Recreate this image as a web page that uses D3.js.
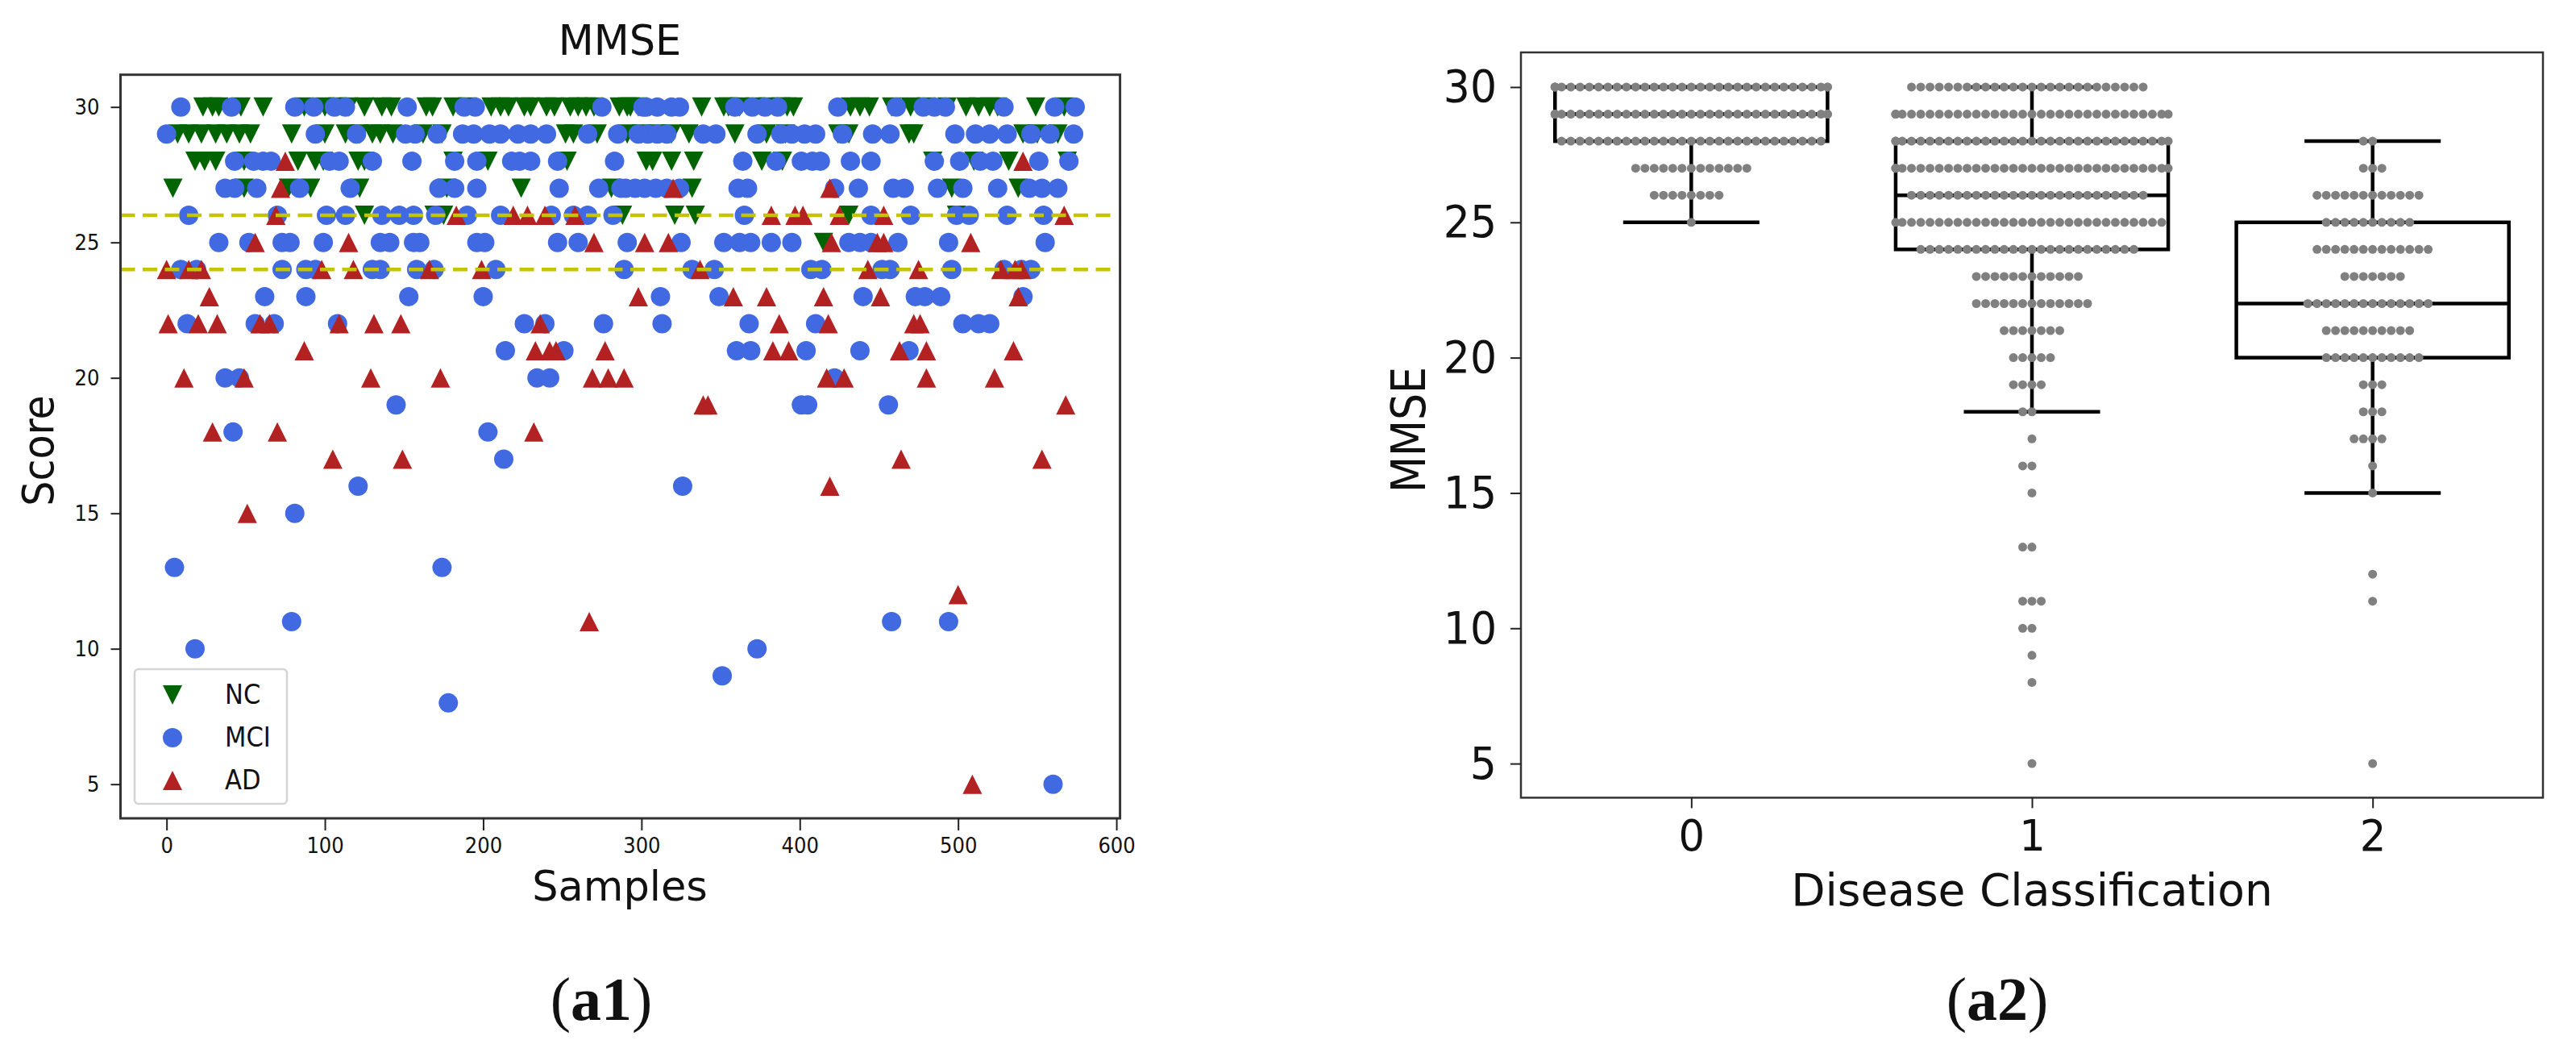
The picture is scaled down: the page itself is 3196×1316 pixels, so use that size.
<!DOCTYPE html>
<html>
<head>
<meta charset="utf-8">
<title>MMSE</title>
<script src="https://cdn.jsdelivr.net/npm/d3@7"></script>
<style>
  html, body { margin: 0; background: #fff; }
  svg { display: block; }
  text { font-family: "DejaVu Sans", sans-serif; fill: #111; }
</style>
</head>
<body>
<script>
/* Left panel: sample index per group, one list per score row. */
const rowScores = [30, 29, 28, 27, 26, 25, 24, 23, 22, 21, 20, 19, 18, 17, 16, 15, 13, 12, 11, 10, 9, 8, 5];
const ncSamples = [
  [23, 29, 33, 47, 61, 87, 100, 108, 115, 125, 136, 142, 164, 168, 181, 190, 205, 211, 216, 226, 230, 240, 245, 255, 260, 265, 270, 286, 291, 293, 298, 338, 352, 355, 362, 372, 380, 388, 392, 396, 432, 438, 444, 458, 470, 480, 493, 505, 513, 520, 525, 549, 567],
  [7, 14, 22, 31, 38, 46, 53, 79, 100, 113, 122, 130, 135, 143, 162, 174, 252, 257, 272, 291, 300, 310, 319, 330, 359, 379, 391, 424, 431, 469, 472, 541, 550, 563],
  [18, 24, 31, 49, 83, 94, 99, 121, 125, 181, 203, 253, 303, 307, 319, 333, 376, 389, 484, 510, 532, 569],
  [4, 49, 77, 91, 122, 177, 224, 281, 332, 496, 538],
  [125, 169, 175, 288, 321, 334, 431, 499],
  [415],
  [], [], [], [], [], [], [], [], [], [], [], [], [], [], [], [], []
];
const mciSamples = [
  [9, 41, 81, 93, 106, 113, 152, 188, 195, 275, 301, 303, 310, 319, 324, 359, 370, 378, 386, 424, 461, 478, 485, 492, 529, 561, 574],
  [0, 94, 120, 151, 157, 171, 187, 194, 204, 211, 222, 230, 240, 266, 285, 298, 304, 310, 316, 339, 347, 373, 388, 395, 403, 410, 427, 446, 457, 498, 511, 520, 531, 546, 558, 573],
  [43, 55, 61, 66, 103, 109, 130, 155, 182, 196, 218, 223, 230, 247, 283, 364, 385, 401, 408, 413, 432, 445, 485, 501, 514, 522, 551, 570],
  [37, 43, 57, 84, 116, 172, 182, 196, 248, 273, 287, 290, 296, 302, 309, 316, 324, 361, 367, 422, 437, 459, 466, 487, 503, 525, 545, 553, 563],
  [14, 70, 101, 113, 136, 147, 156, 170, 190, 211, 243, 257, 266, 282, 365, 445, 470, 499, 507, 531, 554],
  [33, 52, 73, 78, 99, 135, 141, 156, 160, 196, 201, 247, 260, 291, 325, 352, 362, 369, 382, 395, 431, 438, 445, 462, 494, 555],
  [9, 19, 73, 88, 94, 130, 135, 158, 169, 208, 289, 332, 346, 407, 414, 452, 457, 496, 529, 540, 546],
  [62, 88, 153, 200, 312, 349, 440, 473, 479, 489, 541],
  [13, 56, 68, 108, 226, 239, 276, 313, 368, 410, 503, 513, 520],
  [214, 251, 360, 369, 404, 438, 469],
  [37, 46, 234, 242, 422],
  [145, 401, 405, 456],
  [42, 203],
  [213],
  [121, 326],
  [81],
  [5, 174],
  [],
  [79, 458, 494],
  [18, 373],
  [351],
  [178],
  [560]
];
const adSamples = [
  [],
  [],
  [75, 541],
  [72, 320, 419],
  [69, 183, 219, 228, 239, 258, 382, 397, 402, 425, 453, 567],
  [56, 115, 270, 302, 317, 420, 449, 453, 508],
  [0, 14, 22, 98, 118, 166, 199, 337, 443, 475, 527, 536, 540],
  [27, 298, 358, 379, 415, 451, 538],
  [1, 20, 32, 59, 65, 109, 131, 148, 236, 387, 418, 472, 476],
  [87, 233, 242, 246, 277, 383, 393, 463, 480, 535],
  [11, 49, 129, 173, 269, 279, 289, 417, 428, 480, 523],
  [339, 342, 568],
  [29, 70, 232],
  [105, 149, 464, 553],
  [419],
  [51],
  [],
  [500],
  [267],
  [], [], [],
  [509]
];
const thresholdScores = [26, 24];
const sampleTicks = [0, 100, 200, 300, 400, 500, 600];
const scoreTicks = [5, 10, 15, 20, 25, 30];

/* Right panel: number of subjects per score (30 down to 5) and box statistics per class. */
const swarmScores = [30, 29, 28, 27, 26, 25, 24, 23, 22, 21, 20, 19, 18, 17, 16, 15, 14, 13, 12, 11, 10, 9, 8, 7, 6, 5];
const class0Counts = [34, 34, 29, 13, 8, 1, 0, 0, 0, 0, 0, 0, 0, 0, 0, 0, 0, 0, 0, 0, 0, 0, 0, 0, 0, 0];
const class1Counts = [26, 32, 32, 32, 26, 30, 24, 12, 13, 7, 5, 4, 2, 1, 2, 1, 0, 2, 0, 3, 2, 1, 1, 0, 0, 1];
const class2Counts = [0, 0, 2, 3, 12, 10, 13, 7, 14, 10, 11, 3, 3, 4, 1, 1, 0, 0, 1, 1, 0, 0, 0, 0, 0, 1];
const classes = [0, 1, 2];
const boxQ1 = [28, 24, 20];
const boxMedian = [29, 26, 22];
const boxQ3 = [30, 28, 25];
const whiskerLow = [25, 18, 15];
const whiskerHigh = [30, 30, 28];

const svg = d3.select("body").append("svg")
  .attr("width", 3196)
  .attr("height", 1316);

// Marker shapes of the scatter panel, as wide as they are tall.
const triangleUp = {
  draw(context, size) {
    const h = Math.sqrt(size) / 2;
    context.moveTo(0, -h);
    context.lineTo(h, h);
    context.lineTo(-h, h);
    context.closePath();
  }
};
const triangleDown = {
  draw(context, size) {
    const h = Math.sqrt(size) / 2;
    context.moveTo(0, h);
    context.lineTo(h, -h);
    context.lineTo(-h, -h);
    context.closePath();
  }
};
const markerPath = {
  NC: d3.symbol().type(triangleDown).size(576)(),
  MCI: d3.symbol().type(d3.symbolCircle).size(Math.PI * 12 * 12)(),
  AD: d3.symbol().type(triangleUp).size(576)()
};
const markerColor = { NC: "#006400", MCI: "#4169e1", AD: "#b22222" };

// Text a bit narrower than the font, the source picture was squeezed sideways.
function placeText(parent, str, x, y, size, squeeze, anchor, rotate) {
  return parent.append("text")
    .attr("transform", "translate(" + x + "," + y + ")" + (rotate ? " rotate(-90)" : "") + " scale(" + squeeze + ",1)")
    .attr("text-anchor", anchor || "middle")
    .style("font-size", size + "px")
    .text(str);
}

function styleAxis(g, fontSize, squeeze, tickWidth) {
  g.select(".domain").remove();
  g.selectAll(".tick line").attr("stroke", "#222").attr("stroke-width", tickWidth);
  g.selectAll(".tick text")
    .style("font-size", fontSize + "px")
    .each(function () {
      let t = d3.select(this);
      t.attr("x", +t.attr("x") / squeeze).attr("transform", "scale(" + squeeze + ",1)");
    });
}

function drawScatter() {
  const x = d3.scaleLinear().domain([-29.1, 602.3]).range([149.5, 1389.6]),
    y = d3.scaleLinear().domain([3.74, 31.19]).range([1015, 92.7]),
    g = svg.append("g").attr("class", "scatter");

  g.append("rect")
    .attr("x", 149.5).attr("y", 92.7)
    .attr("width", 1240.1).attr("height", 922.3)
    .attr("fill", "#fff");

  // NC goes first, MCI over it and AD on top.
  [["NC", ncSamples], ["MCI", mciSamples], ["AD", adSamples]].forEach(function (group) {
    let points = [];
    group[1].forEach(function (samples, i) {
      samples.forEach(function (s) {
        points.push({ sample: s, score: rowScores[i] });
      });
    });
    g.append("g").selectAll("path")
      .data(points)
      .enter().append("path")
      .attr("d", markerPath[group[0]])
      .attr("fill", markerColor[group[0]])
      .attr("transform", function (d) {
        return "translate(" + x(d.sample) + "," + y(d.score) + ")";
      });
  });

  g.append("g").selectAll("line")
    .data(thresholdScores)
    .enter().append("line")
    .attr("x1", 149.5).attr("x2", 1385)
    .attr("y1", function (d) { return y(d); })
    .attr("y2", function (d) { return y(d); })
    .attr("stroke", "#c4c400")
    .attr("stroke-width", 4.5)
    .attr("stroke-dasharray", "18 9.5");

  g.append("rect")
    .attr("x", 149.5).attr("y", 92.7)
    .attr("width", 1240.1).attr("height", 922.3)
    .attr("fill", "none")
    .attr("stroke", "#333")
    .attr("stroke-width", 3);

  g.append("g")
    .attr("transform", "translate(0,1015)")
    .call(d3.axisBottom(x).tickValues(sampleTicks).tickSize(15).tickPadding(9))
    .call(styleAxis, 27, 0.9, 2);
  g.append("g")
    .attr("transform", "translate(149.5,0)")
    .call(d3.axisLeft(y).tickValues(scoreTicks).tickSize(12).tickPadding(14))
    .call(styleAxis, 27, 0.9, 2);

  placeText(g, "MMSE", 769, 68, 52, 0.98);
  placeText(g, "Samples", 769, 1117, 52, 0.98);
  placeText(g, "Score", 66, 559, 54, 0.91, "middle", true);

  drawLegend(g);
}

function drawLegend(g) {
  const names = ["NC", "MCI", "AD"],
    rows = d3.scaleOrdinal().domain(names).range([862, 915, 968]);

  g.append("rect")
    .attr("x", 167).attr("y", 830)
    .attr("width", 189).attr("height", 167)
    .attr("rx", 5)
    .attr("fill", "#fff")
    .attr("fill-opacity", 0.8)
    .attr("stroke", "#d4d4d4")
    .attr("stroke-width", 2.5);

  names.forEach(function (name) {
    g.append("path")
      .attr("d", markerPath[name])
      .attr("fill", markerColor[name])
      .attr("transform", "translate(214," + rows(name) + ")");
    placeText(g, name, 279, rows(name) + 11, 34, 0.9, "start");
  });
}

function drawSwarmBox() {
  const x = d3.scaleLinear().domain([-0.5, 2.5]).range([1887, 3155]),
    y = d3.scaleLinear().domain([3.74, 31.28]).range([989.4, 65]),
    g = svg.append("g").attr("class", "swarm"),
    lineWidth = 4.5,
    boxHalf = 0.4,
    capHalf = 0.2,
    spacing = 0.0272;

  function seg(x1, v1, x2, v2) {
    g.append("line")
      .attr("x1", x(x1)).attr("y1", y(v1))
      .attr("x2", x(x2)).attr("y2", y(v2))
      .attr("stroke", "#000")
      .attr("stroke-width", lineWidth);
  }

  classes.forEach(function (c) {
    g.append("rect")
      .attr("x", x(c - boxHalf)).attr("y", y(boxQ3[c]))
      .attr("width", x(c + boxHalf) - x(c - boxHalf))
      .attr("height", y(boxQ1[c]) - y(boxQ3[c]))
      .attr("fill", "none")
      .attr("stroke", "#000")
      .attr("stroke-width", lineWidth);
    seg(c - boxHalf, boxMedian[c], c + boxHalf, boxMedian[c]);
    seg(c, boxQ1[c], c, whiskerLow[c]);
    seg(c, boxQ3[c], c, whiskerHigh[c]);
    seg(c - capHalf, whiskerLow[c], c + capHalf, whiskerLow[c]);
    seg(c - capHalf, whiskerHigh[c], c + capHalf, whiskerHigh[c]);
  });

  // Dots spread out from the centre of each class and pile up at the box edges, like a swarm plot.
  let dots = [];
  [class0Counts, class1Counts, class2Counts].forEach(function (counts, c) {
    counts.forEach(function (n, i) {
      for (let k = 0; k < n; k++) {
        let off = (k - Math.floor(n / 2)) * spacing;
        dots.push({ pos: c + Math.max(-boxHalf, Math.min(boxHalf, off)), score: swarmScores[i] });
      }
    });
  });
  g.append("g").selectAll("circle")
    .data(dots)
    .enter().append("circle")
    .attr("cx", function (d) { return x(d.pos); })
    .attr("cy", function (d) { return y(d.score); })
    .attr("r", 5.5)
    .attr("fill", "#808080");

  g.append("rect")
    .attr("x", 1887).attr("y", 65)
    .attr("width", 1268).attr("height", 924.4)
    .attr("fill", "none")
    .attr("stroke", "#333")
    .attr("stroke-width", 2.5);

  g.append("g")
    .attr("transform", "translate(0,989.4)")
    .call(d3.axisBottom(x).tickValues(classes).tickFormat(d3.format("d")).tickSize(13).tickPadding(14))
    .call(styleAxis, 54, 0.95, 2);
  g.append("g")
    .attr("transform", "translate(1887,0)")
    .call(d3.axisLeft(y).tickValues(scoreTicks).tickSize(13).tickPadding(17))
    .call(styleAxis, 56, 0.93, 2);

  placeText(g, "Disease Classification", 2521, 1123, 55, 1);
  placeText(g, "MMSE", 1768, 533, 58, 0.9, "middle", true);
}

// Panel captions under the charts.
function drawCaption(x, label) {
  let t = svg.append("text")
    .attr("x", x).attr("y", 1265)
    .attr("text-anchor", "middle")
    .style("font-family", "'Liberation Serif', serif")
    .style("font-size", "76px");
  t.append("tspan").text("(");
  t.append("tspan").style("font-weight", "bold").text(label);
  t.append("tspan").text(")");
}

drawScatter();
drawSwarmBox();
drawCaption(746, "a1");
drawCaption(2478, "a2");
</script>
</body>
</html>
